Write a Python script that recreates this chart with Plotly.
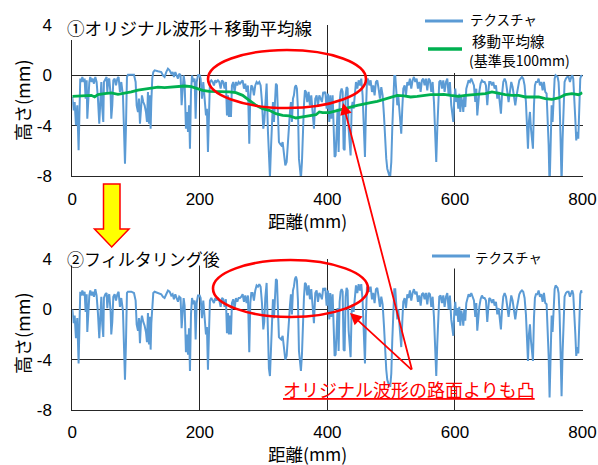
import plotly.graph_objects as go

# ---------------- data ----------------
# distance along the profile (mm), shared by both texture series
dist_mm = [
    0.0, 2.1, 3.7, 5.7, 7.8, 9.9, 11.5, 12.5,
    14.1, 15.7, 17.8, 19.3, 20.9, 22.5, 23.5, 25.1,
    26.7, 28.2, 30.3, 31.9, 34.0, 36.1, 38.1, 40.2,
    42.3, 43.9, 45.5, 47.0, 48.6, 49.6, 51.7, 53.8,
    54.9, 56.4, 58.0, 60.1, 61.1, 62.7, 64.3, 66.4,
    68.5, 70.6, 72.6, 74.7, 76.8, 79.4, 81.0, 82.6,
    84.1, 85.7, 87.3, 92.5, 96.7, 99.3, 100.9, 103.0,
    104.5, 106.1, 107.7, 109.2, 111.3, 113.4, 115.5, 117.1,
    118.6, 120.2, 121.8, 122.8, 123.9, 125.4, 127.0, 129.1,
    134.3, 139.5, 142.1, 144.7, 147.3, 150.0, 152.6, 155.2,
    157.3, 159.4, 161.5, 163.6, 165.7, 167.7, 169.8, 171.4,
    173.0, 174.6, 176.1, 178.2, 179.8, 181.4, 183.0, 184.5,
    186.1, 187.7, 189.8, 191.8, 193.4, 195.0, 197.1, 199.7,
    201.2, 203.3, 205.4, 207.5, 209.6, 211.1, 212.7, 214.3,
    215.8, 217.9, 220.0, 222.1, 224.2, 226.3, 228.4, 230.5,
    232.6, 234.7, 236.8, 238.8, 240.9, 242.5, 244.1, 245.6,
    247.2, 248.8, 250.3, 252.4, 254.5, 256.6, 258.7, 260.8,
    262.9, 265.0, 267.1, 269.2, 271.2, 273.3, 275.4, 277.5,
    279.1, 280.7, 282.7, 284.8, 286.9, 289.0, 291.1, 293.2,
    295.3, 297.4, 299.5, 301.0, 302.6, 304.7, 306.8, 308.3,
    309.9, 311.5, 313.0, 314.6, 316.2, 317.8, 319.3, 320.9,
    322.5, 324.0, 325.6, 327.7, 329.8, 331.9, 334.0, 336.1,
    337.6, 339.2, 341.3, 342.8, 344.4, 346.0, 347.5, 349.1,
    350.7, 352.2, 353.8, 355.4, 357.0, 358.5, 360.1, 361.7,
    363.2, 364.8, 366.4, 368.4, 370.5, 372.6, 374.7, 376.8,
    378.9, 381.0, 383.1, 385.2, 387.3, 389.4, 391.4, 393.5,
    394.6, 396.7, 398.8, 400.9, 403.0, 404.5, 406.1, 408.2,
    409.8, 411.3, 412.9, 414.5, 416.0, 417.6, 419.2, 420.7,
    422.3, 423.9, 425.4, 427.0, 428.6, 430.1, 431.7, 433.3,
    434.8, 436.4, 438.0, 439.5, 441.1, 442.7, 444.8, 446.9,
    449.0, 451.0, 453.1, 455.2, 457.3, 458.9, 460.4, 462.0,
    463.6, 465.7, 467.8, 469.9, 471.9, 474.0, 476.1, 478.2,
    480.3, 482.4, 484.5, 486.6, 488.7, 490.8, 492.3, 493.9,
    495.5, 497.0, 498.6, 500.2, 501.7, 503.3, 504.9, 506.4,
    508.0, 509.6, 511.1, 512.7, 514.3, 515.8, 517.4, 519.0,
    521.1, 523.2, 525.3, 527.3, 529.4, 531.5, 533.6, 535.7,
    537.8, 539.9, 542.0, 544.1, 546.2, 548.2, 550.3, 552.4,
    554.5, 556.6, 558.7, 560.8, 562.9, 565.0, 567.1, 569.2,
    570.7, 572.3, 573.9, 575.4, 577.5, 579.6, 581.7, 583.8,
    585.9, 588.0, 590.1, 592.1, 594.2,
    597.4, 599.0, 600.5, 602.1, 603.7, 605.2, 606.8, 608.4,
    609.9, 611.5, 613.1, 614.6, 616.2, 617.8, 619.9, 621.4,
    623.5, 625.6, 627.7, 629.8, 631.9, 633.5, 635.0, 636.6,
    638.2, 640.2, 642.3, 644.4, 646.5, 648.6, 650.7, 652.3,
    653.8, 655.9, 658.0, 660.1, 662.2, 664.3, 666.4, 668.5,
    670.6, 672.1, 673.7, 675.8, 677.9, 680.0, 682.1, 684.1,
    686.2, 688.3, 690.4, 692.5, 694.6, 696.7, 698.8, 700.9,
    703.0, 705.1, 707.1, 709.2, 711.3, 712.9, 714.5, 716.0,
    717.6, 719.2, 720.7, 722.3, 723.9, 725.4, 727.0, 729.1,
    731.2, 733.3, 735.4, 737.5, 739.5, 741.6, 743.7, 745.3,
    746.9, 748.4, 750.0, 751.6, 753.1, 754.7, 756.3, 757.8,
    759.4, 761.0, 762.5, 764.1, 765.7, 767.2, 768.8, 770.4,
    771.9, 774.0, 776.1, 778.2, 780.3, 782.4, 784.0, 785.5,
    787.1, 788.7, 790.2, 791.8, 793.4, 794.9, 796.5, 798.1,
    799.6,
]

# ① original texture height (mm)
orig_height = [
    -1.72, -2.78, -2.12, -3.97, -2.38, -5.96, -2.38, -0.26,
    -0.53, -0.13, -0.53, -0.26, -1.85, -0.40, -3.44, -1.32,
    -0.53, -0.13, -0.53, -0.26, -0.66, -0.13, -0.53, -1.85,
    -3.84, -2.12, -0.53, -2.65, -3.70, -0.53, -0.26, -0.13,
    -1.32, -0.40, -0.26, -1.59, -3.44, -2.38, -0.40, -0.26,
    -0.80, -0.26, -0.13, -1.32, -0.53, -1.59, -4.24, -7.02,
    -4.24, -0.13, 0.05, 0.05, 0.05, -0.53, -2.38, -2.91,
    -1.85, -3.84, -2.12, -1.59, -2.12, -2.38, -2.91, -3.70,
    -1.32, -3.84, -1.59, -4.24, -2.12, -0.26, 0.26, 0.40,
    0.32, 0.26, 0.00, -0.13, 0.26, 0.53, 0.40, 0.13,
    0.26, -0.13, 0.26, 0.00, -0.26, 0.13, 0.00, -2.38,
    -0.53, 0.00, -0.53, -4.24, -2.91, -4.50, -2.38, -5.83,
    -1.32, 0.00, -0.53, -0.26, -3.44, -0.53, 0.00, 0.00,
    -0.26, -1.85, -0.53, -2.12, -3.18, -2.65, -6.09, -3.18,
    -0.53, -0.40, -0.53, -0.80, -0.40, -0.53, -0.40, -0.53,
    -1.06, -0.40, -0.53, -1.06, -0.53, -3.18, -1.59, -3.31,
    -1.85, -3.31, -0.80, -0.53, -1.32, -0.53, -0.80, -0.53,
    -0.66, -0.53, -0.40, -1.06, -0.66, -1.32, -0.80, -5.43,
    -1.59, -0.80, -0.93, -1.59, -0.80, -0.53, -0.66, -0.53,
    -0.80, -2.12, -4.24, -3.70, -1.85, -0.66, -4.50, -7.42,
    -8.10, -5.83, -3.70, -2.12, -3.70, -1.85, -0.66, -0.80,
    -4.24, -5.30, -5.43, -5.56, -5.30, -6.09, -7.15, -6.89,
    -5.56, -4.24, -2.91, -2.12, -3.70, -1.85, -1.59, -0.93,
    -0.80, -1.06, -2.65, -6.62, -7.68, -8.20, -6.89, -4.24,
    -2.38, -1.19, -1.32, -2.12, -1.32, -2.38, -1.59, -2.91,
    -4.24, -1.85, -1.59, -2.38, -1.59, -1.85, -2.12, -1.32,
    -1.46, -1.32, -2.65, -1.46, -3.70, -1.59, -3.44, -1.59,
    -5.30, -6.49, -6.36, -4.24, -2.65, -6.09, -2.12, -1.32,
    -1.06, -1.32, -5.83, -5.96, -1.59, -0.93, -1.06, -4.24,
    -5.56, -6.36, -2.65, -2.12, -2.65, -1.32, -0.53, -1.06,
    -0.40, -0.80, -0.26, -1.59, -4.24, -6.49, -2.91, -0.53,
    -0.26, -0.80, -0.40, -1.32, -0.80, -1.59, -0.53, -0.40,
    -1.06, -1.85, -0.93, -1.59, -3.18, -5.56, -6.62, -7.42,
    -7.68, -7.95, -7.95, -6.89, -4.24, -1.06, -0.05, -0.05,
    -1.06, -2.38, -1.59, -2.65, -4.24, -4.64, -2.65, -1.06,
    -0.80, -1.59, -0.53, -0.80, -0.26, -1.06, -0.40, -0.13,
    -0.53, -0.26, -1.06, -0.53, -1.32, -0.40, -0.26, -0.80,
    -0.26, -1.19, -0.26, -0.40, -1.32, -0.53, -2.12, -5.03,
    -6.89, -4.24, -1.32, -0.53, -0.40, -1.06, -0.40, -1.32,
    -0.53, -0.26, -1.59, -0.53, -2.38,
    -3.70, -1.85, -1.06, -2.12, -1.59, -2.65, -1.46, -2.91,
    -1.72, -2.12, -2.91, -1.59, -2.52, -1.06, -0.53, -0.40,
    -0.53, -0.26, -0.53, -0.80, -2.12, -1.06, -3.18, -2.12,
    -1.32, -0.66, -0.40, -0.53, -0.53, -0.80, -2.38, -1.32,
    -0.53, -0.53, -0.80, -0.53, -1.06, -0.80, -1.85, -1.32,
    -2.38, -3.05, -1.59, -0.53, -0.26, -0.53, -1.32, -2.12,
    -1.32, -0.53, -0.93, -1.85, -2.38, -1.59, -0.80, -0.40,
    -0.26, -0.13, -0.26, -0.80, -2.12, -3.70, -5.83, -3.70,
    -2.91, -4.24, -5.30, -5.83, -2.38, -0.80, -0.53, -0.53,
    -0.26, -0.80, -0.53, -1.19, -0.53, -1.32, -1.46, -3.18,
    -5.56, -8.90, -4.24, -2.38, -3.70, -2.12, -0.26, 0.00,
    -0.05, -0.13, -0.53, -2.12, -5.30, -8.60, -5.03, -1.85,
    -0.53, -0.26, -0.13, -0.13, -0.53, -0.13, 0.00, -0.26,
    -1.59, -3.44, -5.17, -4.50, -5.03, -2.38, -0.26, 0.00,
    -0.13,
]

# ② texture height after filtering (mm)
filt_height = [
    0.0, -1.1, -0.5, -2.3, -0.7, -4.3, -0.7, 1.4,
    1.1, 1.5, 1.1, 1.4, -0.2, 1.2, -1.8, 0.3,
    1.1, 1.5, 1.1, 1.4, 1.0, 1.6, 1.1, -0.3,
    -2.3, -0.6, 1.0, -1.2, -2.2, 0.9, 1.2, 1.3,
    0.1, 1.0, 1.2, -0.2, -2.0, -1.0, 1.0, 1.2,
    0.7, 1.2, 1.4, 0.2, 0.9, -0.1, -2.8, -5.6,
    -2.8, 1.3, 1.4, 1.4, 1.3, 0.7, -1.2, -1.7,
    -0.7, -2.7, -1.0, -0.5, -1.0, -1.3, -1.8, -2.6,
    -0.3, -2.8, -0.6, -3.2, -1.1, 0.7, 1.3, 1.4,
    1.3, 1.2, 1.0, 0.9, 1.2, 1.5, 1.4, 1.1,
    1.2, 0.8, 1.2, 0.9, 0.6, 1.0, 0.9, -1.5,
    0.3, 0.9, 0.3, -3.4, -2.0, -3.6, -1.5, -4.9,
    -0.4, 0.9, 0.4, 0.7, -2.4, 0.5, 1.1, 1.1,
    0.9, -0.7, 0.7, -0.9, -2.0, -1.4, -4.8, -1.9,
    0.7, 0.9, 0.7, 0.5, 0.9, 0.7, 0.9, 0.7,
    0.2, 0.9, 0.8, 0.2, 0.8, -1.9, -0.3, -2.0,
    -0.5, -2.0, 0.5, 0.8, 0.1, 0.9, 0.6, 0.9,
    0.9, 1.0, 1.2, 0.6, 1.1, 0.5, 1.1, -3.4,
    0.5, 1.3, 1.3, 0.7, 1.5, 1.9, 1.8, 2.0,
    1.8, 0.5, -1.6, -1.0, 0.9, 2.1, -1.8, -4.7,
    -5.3, -3.0, -0.8, 0.8, -0.7, 1.2, 2.4, 2.3,
    -1.2, -2.2, -2.3, -2.4, -2.1, -2.9, -4.0, -3.7,
    -2.3, -1.0, 0.3, 1.2, -0.4, 1.5, 1.8, 2.4,
    2.6, 2.3, 0.7, -3.3, -4.3, -4.9, -3.6, -0.9,
    0.9, 2.1, 2.0, 1.1, 1.9, 0.8, 1.6, 0.3,
    -1.1, 1.3, 1.5, 0.6, 1.3, 1.1, 0.8, 1.7,
    1.5, 1.7, 0.3, 1.5, -0.8, 1.3, -0.6, 1.2,
    -2.5, -3.7, -3.6, -1.5, 0.1, -3.3, 0.6, 1.4,
    1.6, 1.4, -3.2, -3.3, 1.0, 1.7, 1.5, -1.7,
    -3.0, -3.8, -0.2, 0.4, -0.2, 1.1, 1.9, 1.3,
    2.0, 1.5, 2.0, 0.7, -2.0, -4.3, -0.7, 1.7,
    1.9, 1.4, 1.8, 0.8, 1.3, 0.5, 1.6, 1.7,
    1.0, 0.2, 1.0, 0.4, -1.3, -3.7, -4.8, -5.6,
    -5.8, -6.1, -6.1, -5.1, -2.5, 0.7, 1.6, 1.6,
    0.6, -0.8, 0.0, -1.0, -2.6, -3.0, -1.0, 0.6,
    0.9, 0.1, 1.2, 0.9, 1.5, 0.7, 1.3, 1.6,
    1.2, 1.4, 0.6, 1.1, 0.3, 1.2, 1.3, 0.8,
    1.3, 0.4, 1.3, 1.2, 0.2, 1.0, -0.6, -3.5,
    -5.3, -2.7, 0.2, 1.0, 1.1, 0.5, 1.1, 0.2,
    1.0, 1.3, 0.0, 1.1, -0.8,
    -2.1, -0.2, 0.6, -0.5, 0.1, -1.0, 0.2, -1.3,
    -0.1, -0.5, -1.3, 0.0, -0.9, 0.5, 1.0, 1.2,
    1.0, 1.3, 1.0, 0.7, -0.6, 0.5, -1.7, -0.6,
    0.2, 0.8, 1.1, 0.9, 0.9, 0.7, -1.0, 0.1,
    0.9, 0.8, 0.5, 0.8, 0.3, 0.6, -0.4, 0.1,
    -0.9, -1.6, -0.1, 1.0, 1.3, 1.0, 0.2, -0.6,
    0.3, 1.1, 0.7, -0.3, -0.8, 0.0, 0.8, 1.2,
    1.4, 1.5, 1.4, 0.9, -0.4, -2.0, -4.1, -2.0,
    -1.2, -2.5, -3.6, -4.1, -0.7, 0.9, 1.2, 1.2,
    1.5, 1.0, 1.2, 0.6, 1.3, 0.5, 0.4, -1.3,
    -3.7, -7.0, -2.3, -0.5, -1.8, -0.2, 1.6, 1.9,
    1.8, 1.7, 1.3, -0.4, -3.6, -6.9, -3.4, -0.3,
    1.0, 1.3, 1.4, 1.4, 1.0, 1.3, 1.5, 1.2,
    -0.1, -1.9, -3.7, -3.0, -3.5, -0.9, 1.2, 1.5,
    1.3,
]

# moving average (base length 100 mm)
ma_dist = [
    0.0, 8.9, 19.3, 29.8, 35.0,
    40.2, 50.7, 61.1, 71.6, 82.0, 92.5, 103.0,
    113.4, 123.9, 134.3, 144.7, 155.2, 165.7,
    176.1, 186.6, 197.1, 204.4, 214.8, 225.3,
    235.7, 246.2, 256.6, 267.1, 277.5, 288.0,
    298.4, 308.9, 319.3, 329.8, 340.2, 350.7,
    361.1, 371.6, 382.0, 387.3, 392.5, 403.0,
    415.5, 426.0, 436.4, 446.9, 457.3, 467.8,
    478.2, 488.7, 499.1, 509.6, 520.0, 530.5,
    540.9, 551.4, 561.8, 572.3, 582.7, 593.2,
    605.8, 616.2, 626.7, 637.1, 647.6, 658.0,
    668.5, 678.9, 689.4, 699.8, 710.3, 720.7,
    731.2, 741.6, 752.1, 762.5, 773.0, 783.4,
    793.9, 800.0,
]
ma_height = [
    -1.67, -1.64, -1.64, -1.59, -1.72,
    -1.54, -1.46, -1.40, -1.51, -1.43, -1.32, -1.17,
    -1.11, -1.01, -0.93, -0.98, -0.95, -0.90,
    -0.85, -0.90, -1.06, -1.19, -1.27, -1.27,
    -1.27, -1.32, -1.38, -1.59, -1.99, -2.38,
    -2.65, -2.78, -3.05, -3.18, -3.23, -3.39,
    -3.31, -3.23, -3.13, -2.91, -2.97, -2.97,
    -2.78, -2.65, -2.52, -2.38, -2.25, -2.17,
    -2.07, -1.91, -1.80, -1.59, -1.64, -1.72,
    -1.67, -1.59, -1.54, -1.54, -1.51, -1.59,
    -1.67, -1.59, -1.54, -1.51, -1.46, -1.32,
    -1.46, -1.54, -1.59, -1.59, -1.72, -1.72,
    -1.72, -1.85, -1.91, -1.80, -1.54, -1.46,
    -1.54, -1.38,
]

x_ticks = [0, 200, 400, 600, 800]
y_ticks = [-8, -4, 0, 4]
y_tick_text = ["-8", "-4", "0", "4"]

n = min(len(dist_mm), len(orig_height), len(filt_height))
m = min(len(ma_dist), len(ma_height))

# ---------------- figure ----------------
W, H = 598, 465
def px(v):
    return v / W
def py(v):
    return 1 - v / H

JP = "Noto Sans CJK JP"
NUM = "Liberation Sans"
BLUE = "#5B9BD5"
GREEN = "#00B050"
RED = "#FF0000"
GRID = "#262626"

fig = go.Figure()
fig.add_trace(go.Scatter(x=dist_mm[:n], y=orig_height[:n], mode="lines", name="テクスチャ",
                         line=dict(color=BLUE, width=2), xaxis="x", yaxis="y", showlegend=False))
fig.add_trace(go.Scatter(x=ma_dist[:m], y=ma_height[:m], mode="lines", name="移動平均線(基準長100mm)",
                         line=dict(color=GREEN, width=2.8), xaxis="x", yaxis="y", showlegend=False))
fig.add_trace(go.Scatter(x=dist_mm[:n], y=filt_height[:n], mode="lines", name="テクスチャ",
                         line=dict(color=BLUE, width=2), xaxis="x2", yaxis="y2", showlegend=False))

xdom = [72.3 / W, 582.5 / W]
axis_common = dict(showgrid=True, gridcolor=GRID, gridwidth=1, zeroline=False,
                   showline=True, linecolor=GRID, linewidth=1,
                   tickfont=dict(family=NUM, size=17, color="#000000"), automargin=False)
yaxis_ticks = dict(ticks="outside", ticklen=16, tickcolor="rgba(0,0,0,0)")

fig.update_layout(
    width=W, height=H,
    margin=dict(l=0, r=0, t=0, b=0),
    paper_bgcolor="white", plot_bgcolor="white",
    font=dict(family=JP, color="#000000"),
    showlegend=False,
    hovermode=False,
    xaxis=dict(domain=xdom, range=[0, 800], tickvals=x_ticks, anchor="y",
               ticks="outside", ticklen=8, tickcolor="rgba(0,0,0,0)", **axis_common),
    yaxis=dict(domain=[py(176), py(25)], range=[-8, 4], tickvals=y_ticks, ticktext=y_tick_text,
               anchor="x", **yaxis_ticks, **axis_common),
    xaxis2=dict(domain=xdom, range=[0, 800], tickvals=x_ticks, anchor="y2",
                ticks="outside", ticklen=7, tickcolor="rgba(0,0,0,0)", **axis_common),
    yaxis2=dict(domain=[py(410), py(259)], range=[-8, 4], tickvals=y_ticks, ticktext=y_tick_text,
                anchor="x2", **yaxis_ticks, **axis_common),
)

# white boxes behind titles / legends (hide grid lines like the original)
def white_box(x0, x1, y0, y1):
    fig.add_shape(type="rect", xref="paper", yref="paper", x0=px(x0), x1=px(x1),
                  y0=py(y1), y1=py(y0), fillcolor="white", line=dict(width=0), layer="above")

white_box(64, 323, 10, 40)      # title ①
white_box(420, 557, 8, 73)      # legend top
white_box(578, 588, 25.5, 74)   # legend top (right part)
white_box(64, 240, 249, 265.5)  # title ②
white_box(423, 548, 246, 268.5) # legend bottom

# legend samples
def legend_line(x0, x1, y, color, width):
    fig.add_shape(type="line", xref="paper", yref="paper", x0=px(x0), x1=px(x1),
                  y0=py(y), y1=py(y), line=dict(color=color, width=width), layer="above")

legend_line(425, 463, 21, BLUE, 3)
legend_line(428, 462, 49, GREEN, 3.5)
legend_line(432, 470, 256, BLUE, 3)

annotations = [
    dict(text="①オリジナル波形＋移動平均線", x=px(66), y=py(28), xanchor="left",
         font=dict(family=JP, size=17.5)),
    dict(text="②フィルタリング後", x=px(66), y=py(258.5), xanchor="left",
         font=dict(family=JP, size=17)),
    dict(text="テクスチャ", x=px(469), y=py(19), xanchor="left", font=dict(family=JP, size=13.5)),
    dict(text="移動平均線", x=px(471), y=py(40), xanchor="left", font=dict(family=JP, size=14.5)),
    dict(text="(基準長100mm)", x=px(468), y=py(60), xanchor="left", font=dict(family=JP, size=14)),
    dict(text="テクスチャ", x=px(474), y=py(257), xanchor="left", font=dict(family=JP, size=13.5)),
    dict(text="高さ(mm)", x=px(22), y=py(100), textangle=-90, font=dict(family=JP, size=18)),
    dict(text="高さ(mm)", x=px(22), y=py(333), textangle=-90, font=dict(family=JP, size=18)),
    dict(text="距離(mm)", x=px(307), y=py(220.5), font=dict(family=JP, size=17.5)),
    dict(text="距離(mm)", x=px(307), y=py(453.5), font=dict(family=JP, size=17.5)),
    dict(text="<u>オリジナル波形の路面よりも凸</u>", x=px(408.5), y=py(389),
         font=dict(family=JP, size=18, color=RED)),
    dict(text="", x=px(343), y=py(103), ax=69, ay=267, showarrow=True, arrowhead=2,
         arrowsize=1.3, arrowwidth=1.8, arrowcolor=RED),
    dict(text="", x=px(350), y=py(313), ax=62, ay=57, showarrow=True, arrowhead=2,
         arrowsize=1.3, arrowwidth=1.8, arrowcolor=RED),
]
for a in annotations:
    a.setdefault("xref", "paper")
    a.setdefault("yref", "paper")
    a.setdefault("xanchor", "center")
    a.setdefault("yanchor", "middle")
    a.setdefault("showarrow", False)
    a.setdefault("borderpad", 0)
    fig.add_annotation(**a)

# red ellipses
fig.add_shape(type="circle", xref="paper", yref="paper", x0=px(208), x1=px(366),
              y0=py(108), y1=py(50), line=dict(color=RED, width=2.6), layer="above")
fig.add_shape(type="circle", xref="paper", yref="paper", x0=px(213), x1=px(368),
              y0=py(317), y1=py(260), line=dict(color=RED, width=2.6), layer="above")

# yellow block arrow
pts = [(103.5, 184), (120, 184), (120, 229), (129, 229), (111.7, 247), (94.5, 229), (103.5, 229)]
path = "M " + " L ".join(f"{px(a):.5f},{py(b):.5f}" for a, b in pts) + " Z"
fig.add_shape(type="path", xref="paper", yref="paper", path=path,
              fillcolor="#FFFF00", line=dict(color=RED, width=1.5), layer="above")

fig.write_html("out.html", config={"displayModeBar": False, "staticPlot": True},
               post_script="document.body.style.margin='0px';")
